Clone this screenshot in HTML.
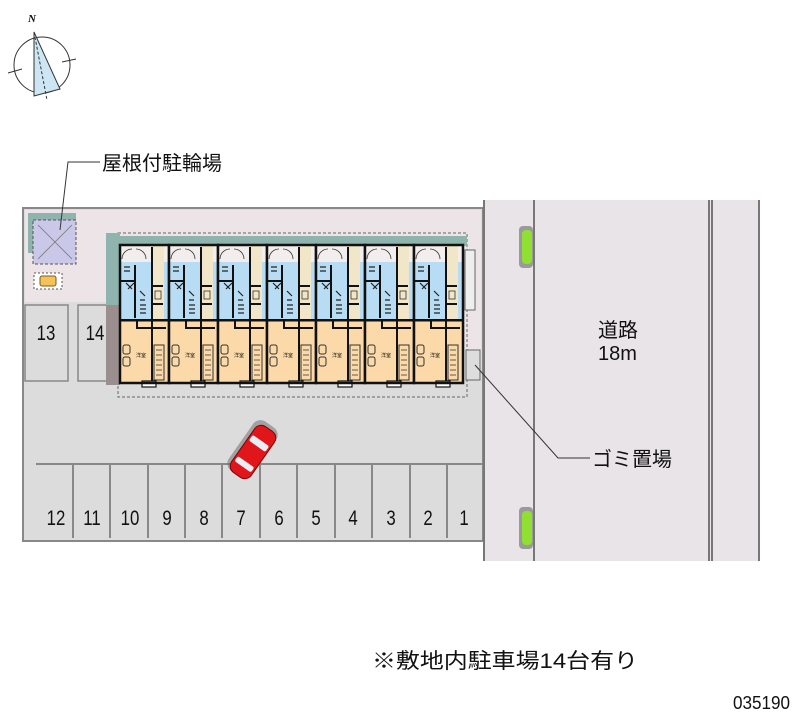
<!DOCTYPE html>
<html><head><meta charset="utf-8"><style>
html,body{margin:0;padding:0;background:#fff;}
svg{display:block;}
text{font-family:"Liberation Sans","Noto Sans CJK JP",sans-serif;fill:#111;}
</style></head><body>
<svg width="800" height="727" viewBox="0 0 800 727" xmlns="http://www.w3.org/2000/svg">
<defs>
<g id="unit">
  <rect x="0" y="0" width="49" height="17" fill="#f3eeee"/>
  <rect x="0" y="17" width="49" height="58" fill="#b8dcf4"/>
  <rect x="0" y="75" width="49" height="63" fill="#fbd9a8"/>
  <rect x="32" y="0" width="12" height="75" fill="#f2e6c8"/>
  <rect x="31" y="2" width="2" height="136" fill="#111"/>
  <rect x="0" y="74" width="49" height="2.5" fill="#111"/>
  <rect x="0" y="35" width="15" height="2" fill="#111"/>
  <rect x="14" y="20" width="2" height="53" fill="#111"/>
  <rect x="33" y="40" width="10" height="2" fill="#111"/>
  <rect x="33" y="58" width="10" height="2" fill="#111"/>
  <path d="M2 14 A10 10 0 0 1 12 4 M26 14 A10 10 0 0 0 16 4" stroke="#333" fill="none" stroke-width="0.8"/>
  <rect x="35" y="46" width="6" height="8" fill="none" stroke="#333" stroke-width="0.8"/>
  <path d="M4 22 l6 0 m-6 4 l6 0 m-4 12 l6 6 m2 -6 l-6 6 M20 46 l5 5 m-5 4 l5 0 M20 60 l6 0 m-6 4 l6 0 m-6 4 l6 0" stroke="#222" stroke-width="1.2"/>
  <rect x="16" y="82" width="30" height="2" fill="#111"/>
  <rect x="16" y="76" width="2" height="8" fill="#111"/>
  <rect x="3" y="100" width="7" height="9" rx="2" fill="none" stroke="#333" stroke-width="1"/>
  <rect x="3" y="112" width="7" height="9" rx="2" fill="none" stroke="#333" stroke-width="1"/>
  <rect x="34" y="100" width="10" height="35" fill="none" stroke="#333" stroke-width="1"/>
  <path d="M36 105 h6 M36 110 h6 M36 115 h6 M36 120 h6 M36 125 h6 M36 130 h6" stroke="#333" stroke-width="0.8"/>
  <text x="16" y="112" style="font-size:5px">洋室</text>
  <rect x="22" y="136" width="14" height="6" fill="#fff" stroke="#111" stroke-width="1.2"/>
  <rect x="0" y="0" width="49" height="138" fill="none" stroke="#111" stroke-width="2.5"/>
</g>
</defs>
<text x="28" y="22" style="font-size:11px;font-family:'Liberation Serif',serif;font-weight:bold;font-style:italic">N</text>
<circle cx="42" cy="65" r="28" fill="none" stroke="#333" stroke-width="1"/>
<polygon points="34,32 34,96 60,89" fill="#cde6f3" stroke="#333" stroke-width="1"/>
<line x1="34" y1="32" x2="47" y2="100" stroke="#333" stroke-dasharray="3,2"/>
<path d="M8 73 l14 -4 M62 62 l14 -3" stroke="#333"/>
<rect x="23" y="208" width="460" height="333" fill="#dcdcdc" stroke="#888" stroke-width="2"/>
<rect x="25" y="210" width="446" height="92" fill="#ece4e6"/>
<rect x="465" y="210" width="16" height="170" fill="#ece4e6"/>
<rect x="25" y="305" width="43" height="76" fill="#dcdcdc" stroke="#888" stroke-width="1.5"/>
<rect x="78" y="305" width="35" height="76" fill="#dcdcdc" stroke="#888" stroke-width="1.5"/>
<g style="font-size:21px" text-anchor="middle">
<text transform="translate(46,340) scale(0.8,1)">13</text>
<text transform="translate(95,340) scale(0.8,1)">14</text>
</g>
<rect x="28" y="213" width="48" height="40" fill="#8fb3ad"/>
<rect x="33" y="220" width="43" height="44" fill="#c9c8e8" stroke="#555" stroke-dasharray="3,2"/>
<path d="M38 225 L72 259 M72 225 L38 259" stroke="#777" stroke-width="0.8"/>
<rect x="34" y="273" width="28" height="16" fill="#fff" stroke="#555" stroke-dasharray="2,2"/>
<rect x="40" y="276" width="16" height="10" rx="2" fill="#f5c15a" stroke="#7a5d20"/>
<rect x="118" y="233" width="349" height="164" fill="none" stroke="#666" stroke-dasharray="3,2"/>
<rect x="106" y="233" width="14" height="152" fill="#8fb3ad"/>
<rect x="106" y="305" width="14" height="80" fill="#9a8e8e"/>
<rect x="118" y="236" width="349" height="10" fill="#8fb3ad"/>
<use href="#unit" x="120" y="245"/>
<use href="#unit" x="169" y="245"/>
<use href="#unit" x="218" y="245"/>
<use href="#unit" x="267" y="245"/>
<use href="#unit" x="316" y="245"/>
<use href="#unit" x="365" y="245"/>
<use href="#unit" x="414" y="245"/>
<rect x="465" y="250" width="10" height="60" fill="#eee" stroke="#666"/>
<rect x="466" y="350" width="14" height="30" fill="#ddd" stroke="#666"/>
<line x1="36" y1="464" x2="483" y2="464" stroke="#888" stroke-width="2"/>
<g stroke="#888" stroke-width="2">
<line x1="73" y1="464" x2="73" y2="538"/><line x1="110" y1="464" x2="110" y2="538"/>
<line x1="148" y1="464" x2="148" y2="538"/><line x1="185" y1="464" x2="185" y2="538"/>
<line x1="222" y1="464" x2="222" y2="538"/><line x1="260" y1="464" x2="260" y2="538"/>
<line x1="297" y1="464" x2="297" y2="538"/><line x1="335" y1="464" x2="335" y2="538"/>
<line x1="372" y1="464" x2="372" y2="538"/><line x1="410" y1="464" x2="410" y2="538"/>
<line x1="447" y1="464" x2="447" y2="538"/>
</g>
<g style="font-size:21px" text-anchor="middle">
<text transform="translate(56,525) scale(0.8,1)">12</text><text transform="translate(92,525) scale(0.8,1)">11</text><text transform="translate(130,525) scale(0.8,1)">10</text>
<text transform="translate(167,525) scale(0.8,1)">9</text><text transform="translate(204,525) scale(0.8,1)">8</text><text transform="translate(241,525) scale(0.8,1)">7</text>
<text transform="translate(279,525) scale(0.8,1)">6</text><text transform="translate(316,525) scale(0.8,1)">5</text><text transform="translate(353,525) scale(0.8,1)">4</text>
<text transform="translate(391,525) scale(0.8,1)">3</text><text transform="translate(428,525) scale(0.8,1)">2</text><text transform="translate(464,525) scale(0.8,1)">1</text>
</g>
<g transform="translate(253,452) rotate(35)">
<rect x="-14" y="-30" width="28" height="60" rx="9" fill="#666" opacity="0.5" transform="translate(-2,-2)"/>
<rect x="-12" y="-28" width="24" height="56" rx="8" fill="#e0161b" stroke="#700" stroke-width="1"/>
<rect x="-10" y="-14" width="20" height="7" rx="2" fill="#e8eef4"/>
<rect x="-10" y="12" width="20" height="6" rx="2" fill="#e8eef4"/>
</g>
<rect x="483" y="200" width="277" height="361" fill="#e8e4e8"/>
<g stroke="#777" stroke-width="2">
<line x1="484" y1="200" x2="484" y2="561"/>
<line x1="534" y1="200" x2="534" y2="561"/>
<line x1="709" y1="200" x2="709" y2="561"/>
<line x1="712" y1="200" x2="712" y2="561"/>
<line x1="759" y1="200" x2="759" y2="561"/>
</g>
<rect x="519" y="226" width="14" height="42" rx="4" fill="#9a9a9a"/>
<rect x="522" y="230" width="10" height="34" rx="4" fill="#8fe030"/>
<rect x="519" y="507" width="14" height="42" rx="4" fill="#9a9a9a"/>
<rect x="522" y="511" width="10" height="34" rx="4" fill="#8fe030"/>
<path d="M60 230 L68 162 L100 162" stroke="#333" fill="none"/>
<text x="102" y="170" style="font-size:20px">屋根付駐輪場</text>
<text x="598" y="337" style="font-size:20px">道路</text>
<text x="598" y="360" style="font-size:20px">18m</text>
<path d="M475 365 L558 458 L590 458" stroke="#333" fill="none"/>
<text x="592" y="466" style="font-size:20px">ゴミ置場</text>
<text x="372" y="668" style="font-size:21px" textLength="266" lengthAdjust="spacingAndGlyphs">※敷地内駐車場14台有り</text>
<text x="733" y="709" style="font-size:18px" textLength="57" lengthAdjust="spacingAndGlyphs">035190</text>
</svg>
</body></html>
